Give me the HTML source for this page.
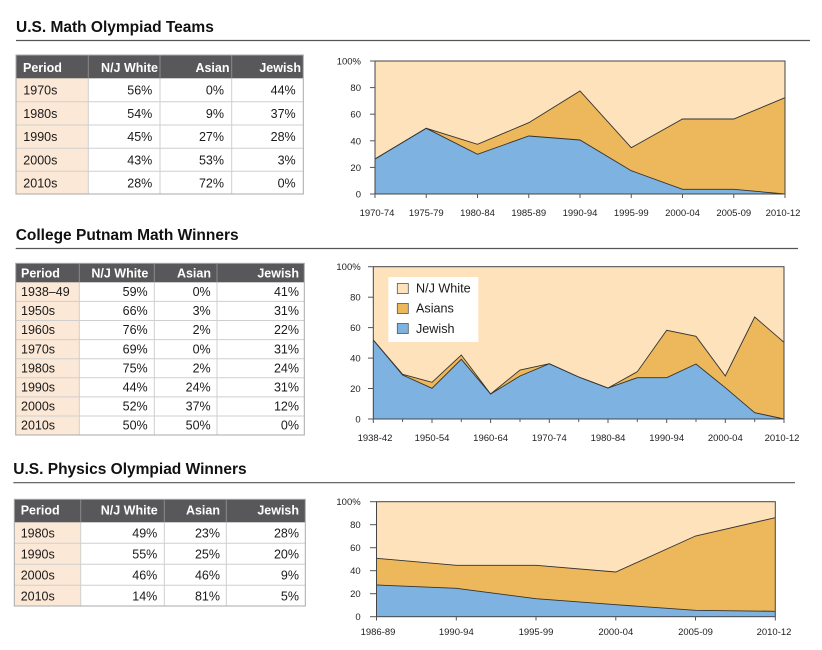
<!DOCTYPE html>
<html>
<head>
<meta charset="utf-8">
<style>
html,body{margin:0;padding:0;background:#fff;}
svg{display:block;font-family:"Liberation Sans",Arial,sans-serif;}
.t{font-weight:bold;font-size:15.5px;fill:#111;}
.h{font-weight:bold;font-size:12.5px;fill:#fff;}
.b{font-size:12.5px;fill:#1a1a1a;}
.ax{font-size:9.5px;fill:#222;}
.lg{font-size:12.6px;fill:#1a1a1a;}
</style>
</head>
<body>
<svg width="822" height="650" viewBox="0 0 822 650" xmlns="http://www.w3.org/2000/svg">
<rect width="822" height="650" fill="#fff"/>

<!-- ================= SECTION 1 ================= -->
<text class="t" x="16" y="32">U.S. Math Olympiad Teams</text>
<line x1="16" y1="40.5" x2="810" y2="40.5" stroke="#555" stroke-width="1.2"/>

<!-- Table 1 -->
<rect x="16" y="55" width="287.3" height="139" fill="#fff"/>
<rect x="16" y="78.3" width="72.3" height="115.7" fill="#fbe8d6"/>
<rect x="16" y="55" width="287.3" height="23.3" fill="#58585a"/>
<g stroke="#cfcfcf" stroke-width="1">
<line x1="16" y1="101.7" x2="303.3" y2="101.7"/>
<line x1="16" y1="125" x2="303.3" y2="125"/>
<line x1="16" y1="148.3" x2="303.3" y2="148.3"/>
<line x1="16" y1="171.3" x2="303.3" y2="171.3"/>
<line x1="88.3" y1="78.3" x2="88.3" y2="194"/>
<line x1="160" y1="78.3" x2="160" y2="194"/>
<line x1="231.7" y1="78.3" x2="231.7" y2="194"/>
</g>
<g stroke="#8a8a8a" stroke-width="1">
<line x1="88.3" y1="55" x2="88.3" y2="78.3"/>
<line x1="160" y1="55" x2="160" y2="78.3"/>
<line x1="231.7" y1="55" x2="231.7" y2="78.3"/>
</g>
<rect x="16" y="55" width="287.3" height="139" fill="none" stroke="#aaa" stroke-width="1"/>
<text class="h" x="23" y="72">Period</text>
<text class="h" x="158" y="72" text-anchor="end">N/J White</text>
<text class="h" x="229.5" y="72" text-anchor="end">Asian</text>
<text class="h" x="301" y="72" text-anchor="end">Jewish</text>
<g class="b">
<text x="23.3" y="94.5">1970s</text><text x="152.3" y="94.5" text-anchor="end">56%</text><text x="224" y="94.5" text-anchor="end">0%</text><text x="295.7" y="94.5" text-anchor="end">44%</text>
<text x="23.3" y="117.8">1980s</text><text x="152.3" y="117.8" text-anchor="end">54%</text><text x="224" y="117.8" text-anchor="end">9%</text><text x="295.7" y="117.8" text-anchor="end">37%</text>
<text x="23.3" y="141.1">1990s</text><text x="152.3" y="141.1" text-anchor="end">45%</text><text x="224" y="141.1" text-anchor="end">27%</text><text x="295.7" y="141.1" text-anchor="end">28%</text>
<text x="23.3" y="164.4">2000s</text><text x="152.3" y="164.4" text-anchor="end">43%</text><text x="224" y="164.4" text-anchor="end">53%</text><text x="295.7" y="164.4" text-anchor="end">3%</text>
<text x="23.3" y="187.7">2010s</text><text x="152.3" y="187.7" text-anchor="end">28%</text><text x="224" y="187.7" text-anchor="end">72%</text><text x="295.7" y="187.7" text-anchor="end">0%</text>
</g>

<!-- Chart 1 -->
<rect x="375" y="61" width="410" height="133" fill="#fde2bc"/>
<polygon fill="#ecb85b" points="375,159 426.25,128.3 477.5,144.3 528.75,122.7 580,91 631.25,147.7 682.5,119 733.75,119 785,97.7 785,194 375,194"/>
<polygon fill="#7db2e1" points="375,159 426.25,128.3 477.5,154.3 528.75,136 580,140 631.25,170.7 682.5,189.3 733.75,189.3 785,194 375,194"/>
<polyline fill="none" stroke="#333" stroke-width="0.9" points="375,159 426.25,128.3 477.5,144.3 528.75,122.7 580,91 631.25,147.7 682.5,119 733.75,119 785,97.7"/>
<polyline fill="none" stroke="#333" stroke-width="0.9" points="375,159 426.25,128.3 477.5,154.3 528.75,136 580,140 631.25,170.7 682.5,189.3 733.75,189.3 785,194"/>
<rect x="375" y="61" width="410" height="133" fill="none" stroke="#444" stroke-width="1"/>
<g stroke="#555" stroke-width="1">
<line x1="370" y1="194" x2="375" y2="194"/><line x1="370" y1="167.4" x2="375" y2="167.4"/><line x1="370" y1="140.8" x2="375" y2="140.8"/><line x1="370" y1="114.2" x2="375" y2="114.2"/><line x1="370" y1="87.6" x2="375" y2="87.6"/><line x1="370" y1="61" x2="375" y2="61"/>
<line x1="375" y1="194" x2="375" y2="198"/><line x1="426.25" y1="194" x2="426.25" y2="198"/><line x1="477.5" y1="194" x2="477.5" y2="198"/><line x1="528.75" y1="194" x2="528.75" y2="198"/><line x1="580" y1="194" x2="580" y2="198"/><line x1="631.25" y1="194" x2="631.25" y2="198"/><line x1="682.5" y1="194" x2="682.5" y2="198"/><line x1="733.75" y1="194" x2="733.75" y2="198"/><line x1="785" y1="194" x2="785" y2="198"/>
</g>
<g class="ax" text-anchor="end">
<text x="361" y="197.5">0</text><text x="361" y="170.9">20</text><text x="361" y="144.3">40</text><text x="361" y="117.7">60</text><text x="361" y="91.1">80</text><text x="361" y="64.5">100%</text>
</g>
<g class="ax" text-anchor="middle">
<text x="377" y="216">1970-74</text><text x="426.25" y="216">1975-79</text><text x="477.5" y="216">1980-84</text><text x="528.75" y="216">1985-89</text><text x="580" y="216">1990-94</text><text x="631.25" y="216">1995-99</text><text x="682.5" y="216">2000-04</text><text x="733.75" y="216">2005-09</text><text x="783" y="216">2010-12</text>
</g>

<!-- ================= SECTION 2 ================= -->
<text class="t" x="15.7" y="240">College Putnam Math Winners</text>
<line x1="15.7" y1="248.5" x2="798" y2="248.5" stroke="#555" stroke-width="1.2"/>

<!-- Table 2 -->
<rect x="15.7" y="263.3" width="288.6" height="171.7" fill="#fff"/>
<rect x="15.7" y="282.3" width="63.6" height="152.7" fill="#fbe8d6"/>
<rect x="15.7" y="263.3" width="288.6" height="19" fill="#58585a"/>
<g stroke="#cfcfcf" stroke-width="1">
<line x1="15.7" y1="301.4" x2="304.3" y2="301.4"/>
<line x1="15.7" y1="320.5" x2="304.3" y2="320.5"/>
<line x1="15.7" y1="339.6" x2="304.3" y2="339.6"/>
<line x1="15.7" y1="358.7" x2="304.3" y2="358.7"/>
<line x1="15.7" y1="377.8" x2="304.3" y2="377.8"/>
<line x1="15.7" y1="396.9" x2="304.3" y2="396.9"/>
<line x1="15.7" y1="416" x2="304.3" y2="416"/>
<line x1="79.3" y1="282.3" x2="79.3" y2="435"/>
<line x1="154.3" y1="282.3" x2="154.3" y2="435"/>
<line x1="217" y1="282.3" x2="217" y2="435"/>
</g>
<g stroke="#8a8a8a" stroke-width="1">
<line x1="79.3" y1="263.3" x2="79.3" y2="282.3"/>
<line x1="154.3" y1="263.3" x2="154.3" y2="282.3"/>
<line x1="217" y1="263.3" x2="217" y2="282.3"/>
</g>
<rect x="15.7" y="263.3" width="288.6" height="171.7" fill="none" stroke="#aaa" stroke-width="1"/>
<text class="h" x="21" y="277.3">Period</text>
<text class="h" x="148.3" y="277.3" text-anchor="end">N/J White</text>
<text class="h" x="211" y="277.3" text-anchor="end">Asian</text>
<text class="h" x="299" y="277.3" text-anchor="end">Jewish</text>
<g class="b">
<text x="21" y="296">1938–49</text><text x="147.7" y="296" text-anchor="end">59%</text><text x="210.7" y="296" text-anchor="end">0%</text><text x="299" y="296" text-anchor="end">41%</text>
<text x="21" y="315.1">1950s</text><text x="147.7" y="315.1" text-anchor="end">66%</text><text x="210.7" y="315.1" text-anchor="end">3%</text><text x="299" y="315.1" text-anchor="end">31%</text>
<text x="21" y="334.2">1960s</text><text x="147.7" y="334.2" text-anchor="end">76%</text><text x="210.7" y="334.2" text-anchor="end">2%</text><text x="299" y="334.2" text-anchor="end">22%</text>
<text x="21" y="353.3">1970s</text><text x="147.7" y="353.3" text-anchor="end">69%</text><text x="210.7" y="353.3" text-anchor="end">0%</text><text x="299" y="353.3" text-anchor="end">31%</text>
<text x="21" y="372.4">1980s</text><text x="147.7" y="372.4" text-anchor="end">75%</text><text x="210.7" y="372.4" text-anchor="end">2%</text><text x="299" y="372.4" text-anchor="end">24%</text>
<text x="21" y="391.5">1990s</text><text x="147.7" y="391.5" text-anchor="end">44%</text><text x="210.7" y="391.5" text-anchor="end">24%</text><text x="299" y="391.5" text-anchor="end">31%</text>
<text x="21" y="410.6">2000s</text><text x="147.7" y="410.6" text-anchor="end">52%</text><text x="210.7" y="410.6" text-anchor="end">37%</text><text x="299" y="410.6" text-anchor="end">12%</text>
<text x="21" y="429.7">2010s</text><text x="147.7" y="429.7" text-anchor="end">50%</text><text x="210.7" y="429.7" text-anchor="end">50%</text><text x="299" y="429.7" text-anchor="end">0%</text>
</g>

<!-- Chart 2 -->
<rect x="373.3" y="266.7" width="410.7" height="152.3" fill="#fde2bc"/>
<polygon fill="#ecb85b" points="373.3,340 402.6,374.3 432,382.3 461.3,355 490.6,394 520,370 549.3,363.7 578.7,377 608,388 637.3,371.7 666.7,330.3 696,336.3 725.3,376 754.7,317 784,342.3 784,419 373.3,419"/>
<polygon fill="#7db2e1" points="373.3,340 402.6,375 432,388.3 461.3,359.3 490.6,394 520,376 549.3,363.7 578.7,377 608,388 637.3,377.7 666.7,377.7 696,364 725.3,387.7 754.7,412.7 784,419 373.3,419"/>
<polyline fill="none" stroke="#333" stroke-width="0.9" points="373.3,340 402.6,374.3 432,382.3 461.3,355 490.6,394 520,370 549.3,363.7 578.7,377 608,388 637.3,371.7 666.7,330.3 696,336.3 725.3,376 754.7,317 784,342.3"/>
<polyline fill="none" stroke="#333" stroke-width="0.9" points="373.3,340 402.6,375 432,388.3 461.3,359.3 490.6,394 520,376 549.3,363.7 578.7,377 608,388 637.3,377.7 666.7,377.7 696,364 725.3,387.7 754.7,412.7 784,419"/>
<rect x="373.3" y="266.7" width="410.7" height="152.3" fill="none" stroke="#444" stroke-width="1"/>
<g stroke="#555" stroke-width="1">
<line x1="368" y1="419" x2="373.3" y2="419"/><line x1="368" y1="388.5" x2="373.3" y2="388.5"/><line x1="368" y1="358.1" x2="373.3" y2="358.1"/><line x1="368" y1="327.6" x2="373.3" y2="327.6"/><line x1="368" y1="297.2" x2="373.3" y2="297.2"/><line x1="368" y1="266.7" x2="373.3" y2="266.7"/>
<line x1="373.3" y1="419" x2="373.3" y2="423"/><line x1="402.6" y1="419" x2="402.6" y2="422"/><line x1="432" y1="419" x2="432" y2="423"/><line x1="461.3" y1="419" x2="461.3" y2="422"/><line x1="490.6" y1="419" x2="490.6" y2="423"/><line x1="520" y1="419" x2="520" y2="422"/><line x1="549.3" y1="419" x2="549.3" y2="423"/><line x1="578.7" y1="419" x2="578.7" y2="422"/><line x1="608" y1="419" x2="608" y2="423"/><line x1="637.3" y1="419" x2="637.3" y2="422"/><line x1="666.7" y1="419" x2="666.7" y2="423"/><line x1="696" y1="419" x2="696" y2="422"/><line x1="725.3" y1="419" x2="725.3" y2="423"/><line x1="754.7" y1="419" x2="754.7" y2="422"/><line x1="784" y1="419" x2="784" y2="423"/>
</g>
<g class="ax" text-anchor="end">
<text x="360.7" y="422.5">0</text><text x="360.7" y="392">20</text><text x="360.7" y="361.6">40</text><text x="360.7" y="331.1">60</text><text x="360.7" y="300.7">80</text><text x="360.7" y="270.2">100%</text>
</g>
<g class="ax" text-anchor="middle">
<text x="375" y="441">1938-42</text><text x="432" y="441">1950-54</text><text x="490.6" y="441">1960-64</text><text x="549.3" y="441">1970-74</text><text x="608" y="441">1980-84</text><text x="666.7" y="441">1990-94</text><text x="725.3" y="441">2000-04</text><text x="782" y="441">2010-12</text>
</g>
<!-- Legend -->
<rect x="388.3" y="277" width="90" height="65" fill="#fff"/>
<rect x="397.3" y="283.5" width="11" height="10" fill="#fde2bc" stroke="#555" stroke-width="0.8"/>
<rect x="397.3" y="303.5" width="11" height="10" fill="#ecb85b" stroke="#555" stroke-width="0.8"/>
<rect x="397.3" y="323.5" width="11" height="10" fill="#7db2e1" stroke="#555" stroke-width="0.8"/>
<text class="lg" x="416" y="292.7">N/J White</text>
<text class="lg" x="416" y="312.7">Asians</text>
<text class="lg" x="416" y="333">Jewish</text>

<!-- ================= SECTION 3 ================= -->
<text class="t" x="13.3" y="474">U.S. Physics Olympiad Winners</text>
<line x1="13.3" y1="482.7" x2="795" y2="482.7" stroke="#555" stroke-width="1.2"/>

<!-- Table 3 -->
<rect x="14.3" y="499.3" width="291" height="106.7" fill="#fff"/>
<rect x="14.3" y="522.3" width="66.4" height="83.7" fill="#fbe8d6"/>
<rect x="14.3" y="499.3" width="291" height="23" fill="#58585a"/>
<g stroke="#cfcfcf" stroke-width="1">
<line x1="14.3" y1="543.3" x2="305.3" y2="543.3"/>
<line x1="14.3" y1="564.3" x2="305.3" y2="564.3"/>
<line x1="14.3" y1="585.3" x2="305.3" y2="585.3"/>
<line x1="80.7" y1="522.3" x2="80.7" y2="606"/>
<line x1="164.3" y1="522.3" x2="164.3" y2="606"/>
<line x1="226.3" y1="522.3" x2="226.3" y2="606"/>
</g>
<g stroke="#8a8a8a" stroke-width="1">
<line x1="80.7" y1="499.3" x2="80.7" y2="522.3"/>
<line x1="164.3" y1="499.3" x2="164.3" y2="522.3"/>
<line x1="226.3" y1="499.3" x2="226.3" y2="522.3"/>
</g>
<rect x="14.3" y="499.3" width="291" height="106.7" fill="none" stroke="#aaa" stroke-width="1"/>
<text class="h" x="20.7" y="514.3">Period</text>
<text class="h" x="157.7" y="514.3" text-anchor="end">N/J White</text>
<text class="h" x="220" y="514.3" text-anchor="end">Asian</text>
<text class="h" x="299" y="514.3" text-anchor="end">Jewish</text>
<g class="b">
<text x="20.7" y="537.3">1980s</text><text x="157.3" y="537.3" text-anchor="end">49%</text><text x="220" y="537.3" text-anchor="end">23%</text><text x="299" y="537.3" text-anchor="end">28%</text>
<text x="20.7" y="558.3">1990s</text><text x="157.3" y="558.3" text-anchor="end">55%</text><text x="220" y="558.3" text-anchor="end">25%</text><text x="299" y="558.3" text-anchor="end">20%</text>
<text x="20.7" y="579.3">2000s</text><text x="157.3" y="579.3" text-anchor="end">46%</text><text x="220" y="579.3" text-anchor="end">46%</text><text x="299" y="579.3" text-anchor="end">9%</text>
<text x="20.7" y="600.3">2010s</text><text x="157.3" y="600.3" text-anchor="end">14%</text><text x="220" y="600.3" text-anchor="end">81%</text><text x="299" y="600.3" text-anchor="end">5%</text>
</g>

<!-- Chart 3 -->
<rect x="376.5" y="501.7" width="398.8" height="115" fill="#fde2bc"/>
<polygon fill="#ecb85b" points="376.5,558.3 456.3,565.3 536,565.3 615.8,572 695.5,536 775.3,517.7 775.3,616.7 376.5,616.7"/>
<polygon fill="#7db2e1" points="376.5,585 456.3,588.3 536,598.7 615.8,604.7 695.5,610.3 775.3,611.3 775.3,616.7 376.5,616.7"/>
<polyline fill="none" stroke="#333" stroke-width="0.9" points="376.5,558.3 456.3,565.3 536,565.3 615.8,572 695.5,536 775.3,517.7"/>
<polyline fill="none" stroke="#333" stroke-width="0.9" points="376.5,585 456.3,588.3 536,598.7 615.8,604.7 695.5,610.3 775.3,611.3"/>
<rect x="376.5" y="501.7" width="398.8" height="115" fill="none" stroke="#444" stroke-width="1"/>
<g stroke="#555" stroke-width="1">
<line x1="370" y1="616.7" x2="376.5" y2="616.7"/><line x1="370" y1="593.7" x2="376.5" y2="593.7"/><line x1="370" y1="570.7" x2="376.5" y2="570.7"/><line x1="370" y1="547.7" x2="376.5" y2="547.7"/><line x1="370" y1="524.7" x2="376.5" y2="524.7"/><line x1="370" y1="501.7" x2="376.5" y2="501.7"/>
<line x1="376.5" y1="616.7" x2="376.5" y2="620.5"/><line x1="456.3" y1="616.7" x2="456.3" y2="620.5"/><line x1="536" y1="616.7" x2="536" y2="620.5"/><line x1="615.8" y1="616.7" x2="615.8" y2="620.5"/><line x1="695.5" y1="616.7" x2="695.5" y2="620.5"/><line x1="775.3" y1="616.7" x2="775.3" y2="620.5"/>
</g>
<g class="ax" text-anchor="end">
<text x="360.7" y="620.2">0</text><text x="360.7" y="597.2">20</text><text x="360.7" y="574.2">40</text><text x="360.7" y="551.2">60</text><text x="360.7" y="528.2">80</text><text x="360.7" y="505.2">100%</text>
</g>
<g class="ax" text-anchor="middle">
<text x="378" y="635">1986-89</text><text x="456.3" y="635">1990-94</text><text x="536" y="635">1995-99</text><text x="615.8" y="635">2000-04</text><text x="695.5" y="635">2005-09</text><text x="774" y="635">2010-12</text>
</g>
</svg>
</body>
</html>
